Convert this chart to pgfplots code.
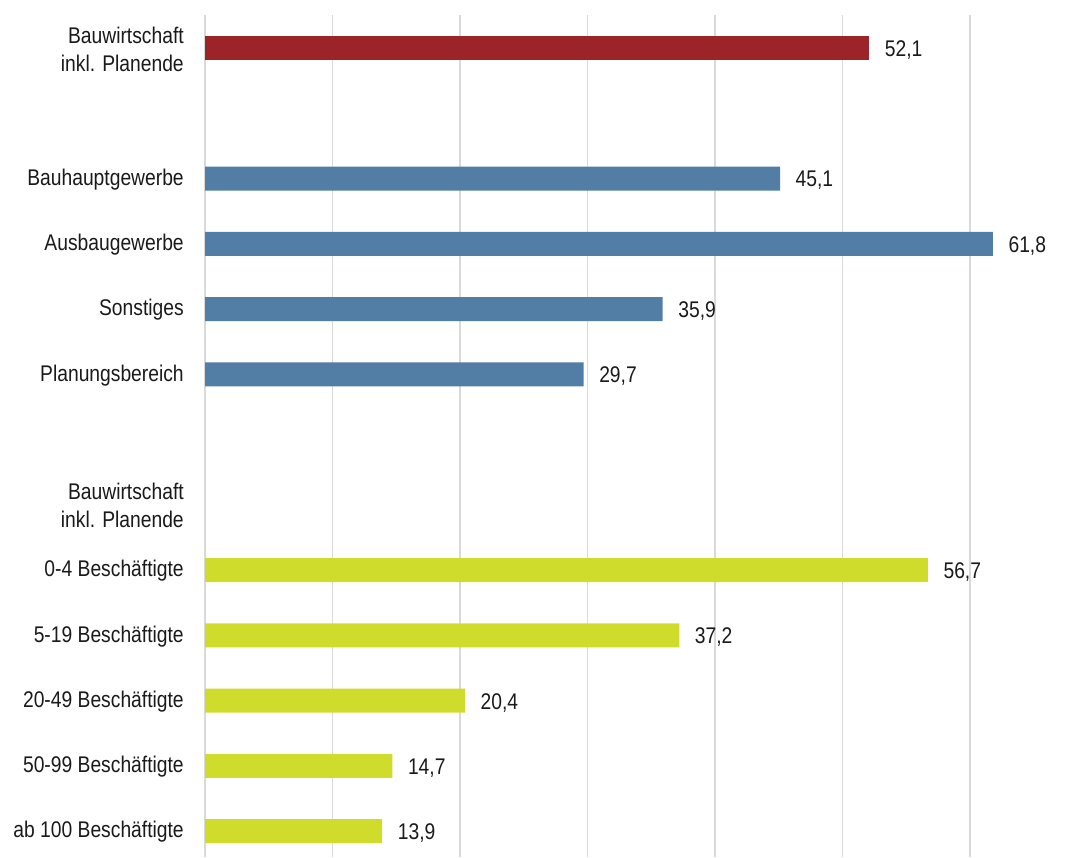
\documentclass[border=0pt]{standalone}
\usepackage{fontspec}
\setmainfont[FakeStretch=0.85]{Liberation Sans}
\usepackage{pgfplots}
\pgfplotsset{compat=1.18}
\definecolor{cRed}{HTML}{9C2428}
\definecolor{cBlue}{HTML}{527EA6}
\definecolor{cLime}{HTML}{D0DC2C}
\definecolor{cGrid}{HTML}{D9D9D9}
\definecolor{cText}{HTML}{1A1A1A}
\begin{document}
\fontsize{17}{21}\selectfont
\begin{tikzpicture}
\useasboundingbox (0,0) rectangle (813pt,642.75pt);
\begin{axis}[
  at={(153.75pt,0pt)}, anchor=south west,
  scale only axis,
  width=640.69pt, height=631.5pt,
  xmin=0, xmax=67,
  ymin=-0.5057, ymax=12.398,
  y dir=reverse,
  axis line style={draw=none},
  xbar, bar width=18pt, bar shift=0pt,
  xtick={0,10,20,30,40,50,60},
  xmajorgrids, major grid style={cGrid, line width=0.8pt},
  xticklabels={},
  ytick={0,2,3,4,5,7,8,9,10,11,12},
  yticklabels={{Bauwirtschaft\\inkl. Planende},Bauhauptgewerbe,Ausbaugewerbe,Sonstiges,Planungsbereich,{Bauwirtschaft\\inkl. Planende},0-4 Beschäftigte,5-19 Beschäftigte,20-49 Beschäftigte,50-99 Beschäftigte,ab 100 Beschäftigte},
  yticklabel style={align=right, inner sep=0pt, xshift=-15.75pt, yshift=-0.75pt, text=cText, font=\fontsize{17}{21}\selectfont},
  major tick length=0pt,
  point meta=explicit symbolic,
  nodes near coords,
  every node near coord/.append style={anchor=west, inner sep=0pt, xshift=11.5pt, yshift=-1.5pt, text=cText, font=\fontsize{17}{21}\selectfont},
  clip=false,
]
\addplot[fill=cRed, draw=none] coordinates {(52.1,0) [52,1]};
\addplot[fill=cBlue, draw=none] coordinates {(45.1,2) [45,1] (61.8,3) [61,8] (35.9,4) [35,9] (29.7,5) [29,7]};
\addplot[fill=cLime, draw=none] coordinates {(56.7,8) [56,7] (37.2,9) [37,2] (20.4,10) [20,4] (14.7,11) [14,7] (13.9,12) [13,9]};
\end{axis}
\end{tikzpicture}
\end{document}
